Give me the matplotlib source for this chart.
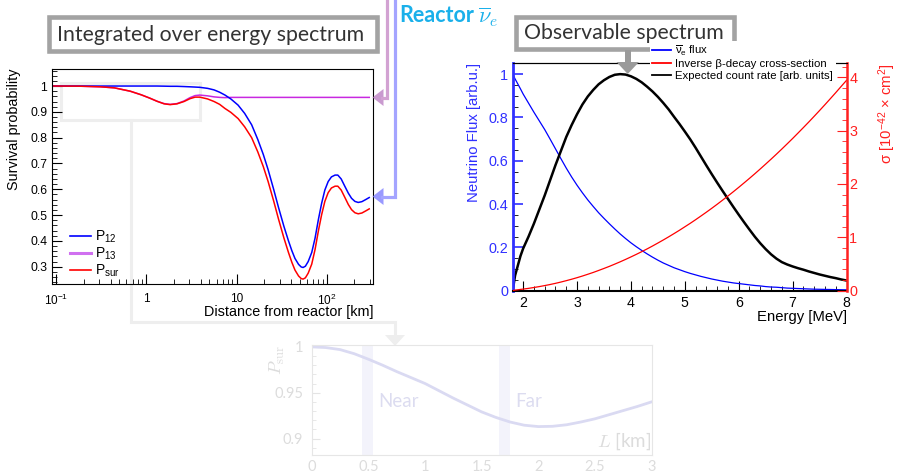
import matplotlib
matplotlib.use("Agg")
import matplotlib.pyplot as plt
from matplotlib.patches import Rectangle, Polygon
from matplotlib.lines import Line2D
from matplotlib.ticker import FixedLocator, MultipleLocator, LogLocator, NullFormatter, FuncFormatter

plt.rcParams['font.family'] = ['Liberation Sans', 'DejaVu Sans']
plt.rcParams['mathtext.fontset'] = 'custom'
plt.rcParams['mathtext.rm'] = 'Liberation Sans'
plt.rcParams['mathtext.it'] = 'Liberation Sans:italic'
plt.rcParams['mathtext.bf'] = 'Liberation Sans:bold'

# Survival probabilities vs. baseline (energy averaged)
dist_km = [0.0894, 0.177, 0.308, 0.44, 0.66, 0.875, 1.09, 1.31, 1.57, 1.83,
           2.18, 2.61, 3.04, 3.47, 3.91, 4.77, 5.63, 6.49, 7.44, 8.64,
           10.4, 12.3, 14.7, 17.2, 19.8, 22.4, 25.8, 29.2, 33.5, 37.7,
           41.1, 44.5, 48.8, 52.2, 54.8, 58.1, 62.4, 68.3, 74.3, 81.1,
           87.9, 95.5, 104, 113, 124, 133, 145, 160, 174, 189,
           206, 224, 246, 271, 297]
p12 = [1.0, 1.0, 1.0, 1.0, 1.0, 1.0, 1.0, 1.0, 0.9995, 0.999,
       0.999, 0.998, 0.997, 0.996, 0.995, 0.991, 0.985, 0.976, 0.965, 0.950,
       0.926, 0.894, 0.850, 0.793, 0.735, 0.676, 0.600, 0.530, 0.457, 0.400,
       0.362, 0.332, 0.309, 0.299, 0.297, 0.302, 0.320, 0.355, 0.410, 0.484,
       0.545, 0.597, 0.630, 0.648, 0.655, 0.655, 0.640, 0.610, 0.585, 0.565,
       0.553, 0.549, 0.552, 0.560, 0.568]
p13 = [1.0, 0.9995, 0.997, 0.993, 0.980, 0.966, 0.953, 0.941, 0.932, 0.929,
       0.932, 0.942, 0.955, 0.963, 0.965, 0.962, 0.958, 0.956, 0.955, 0.956,
       0.956, 0.956, 0.956, 0.956, 0.956, 0.956, 0.956, 0.956, 0.956, 0.956,
       0.956, 0.956, 0.956, 0.956, 0.956, 0.956, 0.956, 0.956, 0.956, 0.956,
       0.956, 0.956, 0.956, 0.956, 0.956, 0.956, 0.956, 0.956, 0.956, 0.956,
       0.956, 0.956, 0.956, 0.956, 0.956]
p_sur = [1.0, 0.9995, 0.997, 0.993, 0.980, 0.966, 0.953, 0.941, 0.931, 0.928,
         0.931, 0.940, 0.951, 0.957, 0.957, 0.950, 0.940, 0.929, 0.913, 0.898,
         0.874, 0.842, 0.800, 0.745, 0.688, 0.630, 0.555, 0.485, 0.412, 0.355,
         0.317, 0.287, 0.264, 0.254, 0.252, 0.257, 0.275, 0.310, 0.366, 0.440,
         0.501, 0.553, 0.587, 0.605, 0.612, 0.612, 0.597, 0.567, 0.541, 0.521,
         0.509, 0.505, 0.508, 0.516, 0.524]

# Reactor spectrum ingredients
energy_mev = [1.806, 1.85, 1.9, 1.95, 2.0, 2.1, 2.2, 2.3, 2.4, 2.5,
              2.6, 2.7, 2.8, 2.9, 3.0, 3.1, 3.2, 3.3, 3.4, 3.5,
              3.6, 3.7, 3.8, 3.9, 4.0, 4.1, 4.2, 4.3, 4.4, 4.5,
              4.6, 4.7, 4.8, 4.9, 5.0, 5.1, 5.2, 5.3, 5.4, 5.5,
              5.6, 5.7, 5.8, 5.9, 6.0, 6.1, 6.2, 6.3, 6.4, 6.5,
              6.6, 6.7, 6.8, 6.9, 7.0, 7.1, 7.2, 7.3, 7.4, 7.5,
              7.6, 7.7, 7.8, 7.9, 8.0]
flux = [1.0, 0.978, 0.955, 0.932, 0.908, 0.866, 0.824, 0.784, 0.744, 0.70,
        0.655, 0.61, 0.566, 0.525, 0.487, 0.452, 0.419, 0.389, 0.36, 0.334,
        0.309, 0.285, 0.262, 0.241, 0.221, 0.203, 0.186, 0.17, 0.155, 0.141,
        0.128, 0.117, 0.106, 0.097, 0.088, 0.08, 0.073, 0.066, 0.06, 0.054,
        0.049, 0.044, 0.04, 0.036, 0.033, 0.03, 0.027, 0.024, 0.022, 0.019,
        0.017, 0.016, 0.014, 0.012, 0.011, 0.01, 0.009, 0.008, 0.007, 0.0065,
        0.006, 0.0055, 0.005, 0.0045, 0.004]
xsec = [0.002, 0.011, 0.017, 0.024, 0.030, 0.044, 0.060, 0.077, 0.096, 0.116,
        0.138, 0.162, 0.188, 0.215, 0.244, 0.275, 0.308, 0.342, 0.379, 0.417,
        0.456, 0.498, 0.541, 0.586, 0.633, 0.681, 0.731, 0.783, 0.837, 0.893,
        0.950, 1.009, 1.070, 1.132, 1.197, 1.262, 1.330, 1.400, 1.471, 1.544,
        1.619, 1.696, 1.774, 1.854, 1.936, 2.020, 2.105, 2.192, 2.281, 2.372,
        2.464, 2.558, 2.654, 2.752, 2.851, 2.953, 3.056, 3.160, 3.267, 3.375,
        3.485, 3.597, 3.710, 3.826, 3.94]
count_rate = [0.0, 0.07, 0.115, 0.16, 0.195, 0.25, 0.31, 0.375, 0.44, 0.51,
              0.58, 0.645, 0.71, 0.765, 0.815, 0.86, 0.897, 0.927, 0.953, 0.972,
              0.987, 0.997, 1.0, 0.998, 0.99, 0.978, 0.962, 0.942, 0.92, 0.895,
              0.867, 0.837, 0.803, 0.77, 0.735, 0.699, 0.660, 0.619, 0.578, 0.538,
              0.499, 0.461, 0.424, 0.387, 0.351, 0.316, 0.282, 0.249, 0.219, 0.192,
              0.168, 0.148, 0.132, 0.121, 0.112, 0.104, 0.097, 0.089, 0.082, 0.075,
              0.069, 0.063, 0.058, 0.052, 0.047]

# Short-baseline detail
short_L = [0, 0.125, 0.25, 0.375, 0.5, 0.625, 0.75, 0.875, 1.0, 1.125,
           1.25, 1.375, 1.5, 1.625, 1.75, 1.875, 2.0, 2.125, 2.25, 2.375,
           2.5, 2.625, 2.75, 2.875, 3.0]
short_psur = [1.0, 0.9992, 0.997, 0.9925, 0.9865, 0.980, 0.973, 0.9665, 0.960, 0.952,
              0.944, 0.9365, 0.929, 0.923, 0.918, 0.9145, 0.913, 0.9133, 0.915, 0.918,
              0.9215, 0.926, 0.9305, 0.935, 0.940]
detector_L = [0.49, 1.70]
detector_names = ['Near', 'Far']

W, H = 897, 475
fig = plt.figure(figsize=(W / 100, H / 100), dpi=100)


def box(x0, y0, x1, y1):
    # pixel rectangle (top-left origin) -> figure fraction
    return [x0 / W, 1 - y1 / H, (x1 - x0) / W, (y1 - y0) / H]


def pixel_layer(z):
    ax = fig.add_axes([0, 0, 1, 1], zorder=z)
    ax.set_xlim(0, W)
    ax.set_ylim(H, 0)
    ax.set_facecolor('none')
    ax.axis('off')
    return ax


beamer = 'Lato'

# ---- background decorations ----
bg = pixel_layer(0)
faint = '#eeeeee'
bg.add_patch(Rectangle((60.7, 83), 139.3, 37, fill=False, ec=faint, lw=2.2))
bg.plot([130.5, 130.5, 395, 395], [120, 322, 322, 338], color=faint, lw=2.2,
        solid_joinstyle='miter')
bg.add_patch(Polygon([(385, 335), (405, 335), (395, 346)], color=faint, lw=0))

bg.add_patch(Rectangle((49, 17), 328, 34, fc='white', ec='#a3a3a3', lw=3.3))
bg.text(210.5, 35, 'Integrated over energy spectrum', family=beamer, fontsize=15.3,
        color='#333333', ha='center', va='center')
bg.add_patch(Rectangle((516, 17), 218, 32, fc='white', ec='#a3a3a3', lw=3.3))
bg.text(624, 33, 'Observable spectrum', family=beamer, fontsize=15.3,
        color='#333333', ha='center', va='center')

bg.text(399, 16, 'Reactor', family=beamer, fontweight='bold', fontsize=15.5,
        color='#1ab0ea', ha='left', va='center')
bg.text(478, 17, r'$\overline{\nu}_e$', math_fontfamily='cm', fontsize=16,
        color='#1ab0ea', ha='left', va='center')

# ---- faded short-baseline panel ----
light = '#dcdcdc'
axb = fig.add_axes(box(311.7, 345, 651.7, 455), zorder=1)
axb.set_facecolor('none')
for c in detector_L:
    axb.axvspan(c - 0.05, c + 0.05, color='#f3f3fb', lw=0)
axb.plot(short_L, short_psur, color='#dadaf2', lw=2)
for c, name in zip(detector_L, detector_names):
    axb.text(c + 0.1, 0.94, name, family=beamer, fontsize=13.5, color='#dcdcf0',
             ha='left', va='center')
axb.text(3.0, 0.897, r'$L$ [km]', math_fontfamily='cm', family=beamer,
         fontsize=13.5, color=light, ha='right', va='center')
axb.set_xlim(0, 3)
axb.set_ylim(0.882, 1.002)
axb.xaxis.set_major_locator(MultipleLocator(0.5))
axb.yaxis.set_major_locator(FixedLocator([0.9, 0.95, 1.0]))
axb.yaxis.set_minor_locator(MultipleLocator(0.01))
axb.xaxis.set_major_formatter(FuncFormatter(lambda v, p: f'{v:g}'))
axb.yaxis.set_major_formatter(FuncFormatter(lambda v, p: f'{round(v, 2):g}'))
axb.tick_params(which='both', direction='in', colors='#e4e4e4', labelcolor=light,
                labelsize=10.5)
axb.tick_params(which='major', length=6)
axb.tick_params(which='minor', length=3)
axb.tick_params(axis='x', length=0)
axb.tick_params(axis='y', pad=6)
for lab in axb.get_xticklabels() + axb.get_yticklabels():
    lab.set_family(beamer)
for s in axb.spines.values():
    s.set_color('#e6e6e6')
axb.text(-0.1, 1.0, r'$P_{\rm sur}$', transform=axb.transAxes, math_fontfamily='cm',
         fontsize=13, color=light, rotation=90, ha='center', va='top')

# ---- survival probability vs distance ----
axl = fig.add_axes(box(52, 69, 373, 284), zorder=2)
axl.set_facecolor('none')
axl.plot(dist_km, p13, color='#c828e0', lw=1.1)
axl.plot(dist_km, p12, color='#0000ff', lw=1.1)
axl.plot(dist_km, p_sur, color='#ff0000', lw=1.1)
axl.set_xscale('log')
axl.set_xlim(0.0894, 327)
axl.set_ylim(0.233, 1.066)
axl.xaxis.set_major_locator(FixedLocator([0.1, 1, 10, 100]))
axl.xaxis.set_minor_locator(LogLocator(subs=range(2, 10)))
axl.xaxis.set_minor_formatter(NullFormatter())
axl.set_xticklabels([r'$10^{-1}$', '1', '10', r'$10^{2}$'])
axl.yaxis.set_major_locator(MultipleLocator(0.1))
axl.yaxis.set_minor_locator(MultipleLocator(0.02))
axl.yaxis.set_major_formatter(FuncFormatter(lambda v, p: f'{round(v, 2):g}'))
axl.tick_params(which='both', direction='in', top=False, right=False)
axl.tick_params(which='major', length=7)
axl.tick_params(which='minor', length=3.5)
axl.tick_params(axis='y', labelsize=8.8, pad=3.5)
axl.tick_params(axis='x', labelsize=8.5, pad=6.5)
axl.text(1.0, -0.13, 'Distance from reactor [km]', transform=axl.transAxes,
         fontsize=10.4, ha='right', va='center')
axl.text(-0.118, 1.0, 'Survival probability', transform=axl.transAxes,
         fontsize=10.4, rotation=90, ha='center', va='top')
leg_l = [Line2D([], [], color='#0000ff', lw=1.2),
         Line2D([], [], color='#d070f0', lw=2.2),
         Line2D([], [], color='#ff0000', lw=1.2)]
axl.legend(leg_l, [r'P$_{12}$', r'P$_{13}$', r'P$_{\rm sur}$'], loc='lower left',
           bbox_to_anchor=(0.035, -0.01), frameon=False, fontsize=10,
           handlelength=1.5, handletextpad=0.3, labelspacing=0.05, borderpad=0)

# ---- observable spectrum ----
axr = fig.add_axes(box(512.7, 63.3, 846.5, 290.7), zorder=2)
axr.set_facecolor('none')
blue_ax = '#3030ff'
red_ax = '#ff2020'
l_flux, = axr.plot(energy_mev, flux, color='#0000ff', lw=0.9)
l_rate, = axr.plot(energy_mev, count_rate, color='black', lw=1.8)
axr.set_xlim(1.806, 8)
axr.set_ylim(0, 1.05)
axr.xaxis.set_major_locator(MultipleLocator(1))
axr.xaxis.set_minor_locator(MultipleLocator(0.2))
axr.yaxis.set_major_locator(MultipleLocator(0.2))
axr.yaxis.set_minor_locator(MultipleLocator(0.05))
axr.yaxis.set_major_formatter(FuncFormatter(lambda v, p: f'{round(v, 2):g}'))
axr.tick_params(which='both', direction='in', top=False, right=False)
axr.tick_params(which='major', length=7.5)
axr.tick_params(which='minor', length=3.8)
axr.tick_params(axis='y', colors=blue_ax, labelsize=10.4, pad=3.4, width=1.2)
axr.tick_params(axis='x', labelsize=10.2, pad=3.5)
axr.spines['left'].set_color(blue_ax)
axr.spines['left'].set_linewidth(2)
axr.spines['bottom'].set_linewidth(1.5)
axr.spines['right'].set_visible(False)
axr.text(-0.117, 1.0, 'Neutrino Flux [arb.u.]', transform=axr.transAxes,
         fontsize=10.7, color=blue_ax, rotation=90, ha='center', va='top')
axr.text(1.0, -0.115, 'Energy [MeV]', transform=axr.transAxes, fontsize=10.7,
         ha='right', va='center')

ax2 = axr.twinx()
ax2.set_facecolor('none')
l_xsec, = ax2.plot(energy_mev, xsec, color='#ff0000', lw=0.9)
ax2.set_ylim(0, 4.26)
ax2.yaxis.set_major_locator(MultipleLocator(1))
ax2.yaxis.set_minor_locator(MultipleLocator(0.2))
ax2.tick_params(which='both', direction='in', colors=red_ax, labelsize=10.4, pad=2)
ax2.tick_params(which='major', length=7.5)
ax2.tick_params(which='minor', length=3.8)
ax2.spines['right'].set_color(red_ax)
ax2.spines['right'].set_linewidth(1.8)
ax2.spines['left'].set_visible(False)
ax2.spines['bottom'].set_visible(False)
ax2.text(1.123, 1.0, 'σ [10$^{-42}$ × cm$^{2}$]', transform=ax2.transAxes,
         fontsize=10.7, color=red_ax, rotation=90, ha='center', va='top')
leg = ax2.legend([l_flux, l_xsec, l_rate],
                 [r'$\overline{\mathrm{ν}}_{\mathrm{e}}$ flux', 'Inverse β-decay cross-section',
                  'Expected count rate [arb. units]'],
                 loc='upper left', bbox_to_anchor=(0.41, 1.1), fontsize=8.2,
                 frameon=True, fancybox=False, edgecolor='none', facecolor='white',
                 framealpha=1, handlelength=1.65, handletextpad=0.35,
                 labelspacing=0.12, borderpad=0.25, borderaxespad=0)
for h in leg.legend_handles:
    h.set_linewidth(1.3)

# ---- foreground connectors ----
fg = pixel_layer(5)
fg.plot([386.5, 386.5, 382], [0, 97.5, 97.5], color='#d2a2d2', lw=2.3,
        solid_joinstyle='miter')
fg.add_patch(Polygon([(383.5, 89), (383.5, 106), (372.5, 97.5)], color='#b878c0',
                     alpha=0.75, lw=0))
fg.plot([395, 395, 382], [0, 196.5, 196.5], color='#a4a4ff', lw=2.3,
        solid_joinstyle='miter')
fg.add_patch(Polygon([(383.5, 188), (383.5, 205), (372.5, 196.5)], color='#8080ff',
                     alpha=0.8, lw=0))
fg.add_patch(Rectangle((625, 50), 5.5, 13, color='#9a9a9a', lw=0))
fg.add_patch(Polygon([(616.5, 62), (639, 62), (627.7, 74)], color='#9a9a9a', lw=0))

fig.savefig('out.png', dpi=100)
